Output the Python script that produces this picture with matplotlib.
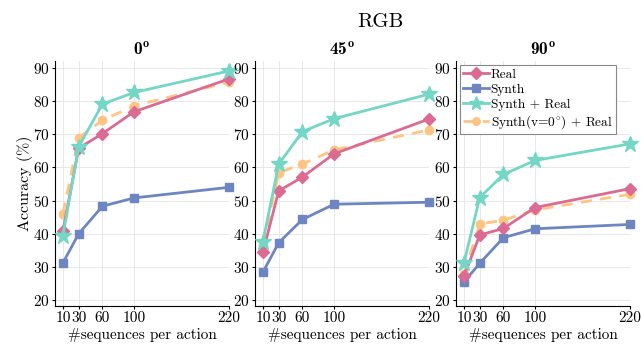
import matplotlib
matplotlib.use('Agg')
import matplotlib.pyplot as plt

plt.rcParams['font.family'] = 'cmr10'
plt.rcParams['mathtext.fontset'] = 'cm'
plt.rcParams['axes.formatter.use_mathtext'] = True

# sequences per action
n_seq = [10, 30, 60, 100, 220]

# accuracy (%) per view angle
views = ['0', '45', '90']
real = {
    '0': [40.8, 65.8, 70.2, 76.8, 86.7],
    '45': [34.4, 52.9, 57.1, 64.1, 74.6],
    '90': [27.1, 39.6, 41.6, 47.9, 53.6],
}
synth = {
    '0': [31.2, 40.0, 48.3, 50.8, 54.0],
    '45': [28.4, 37.3, 44.3, 48.9, 49.5],
    '90': [25.4, 31.1, 38.8, 41.5, 42.8],
}
synth_real = {
    '0': [39.4, 66.3, 79.1, 82.6, 89.1],
    '45': [37.6, 61.0, 70.8, 74.7, 82.1],
    '90': [31.1, 50.9, 57.9, 62.1, 67.1],
}
synth0_real = {
    '0': [46.1, 69.0, 74.2, 78.6, 85.7],
    '45': [36.5, 58.4, 61.0, 65.3, 71.3],
    '90': [28.0, 42.9, 44.1, 47.2, 51.9],
}

c_real = '#db6b92'
c_synth = '#6d86c2'
c_sr = '#74d6c5'
c_s0 = '#ffc482'

fig = plt.figure(figsize=(6.41, 3.47), dpi=100)
lefts = [55, 255, 456]
width = 174

for i, v in enumerate(views):
    ax = fig.add_axes([lefts[i] / 641, 1 - 306 / 347, width / 641, 245 / 347])
    ax.plot(n_seq, real[v], '-D', color=c_real, lw=2, ms=6.5, clip_on=False, label='Real', zorder=4)
    ax.plot(n_seq, synth[v], '-s', color=c_synth, lw=2, ms=6.2, clip_on=False, label='Synth', zorder=3)
    ax.plot(n_seq, synth_real[v], '-*', color=c_sr, lw=2, ms=12, clip_on=False, label='Synth + Real', zorder=5)
    ax.plot(n_seq, synth0_real[v], '--o', color=c_s0, lw=2, ms=6, clip_on=False,
            label=r'Synth(v=$0^{\circ}$) + Real', zorder=2, dashes=(4, 3))
    ax.set_xlim(0, 220)
    ax.set_ylim(18.2, 92.1)
    ax.set_xticks(n_seq)
    ax.set_xticklabels([str(n) for n in n_seq])
    ax.set_yticks([20, 30, 40, 50, 60, 70, 80, 90])
    ax.grid(True, color='#e8e8e8', lw=0.7)
    ax.set_axisbelow(True)
    ax.spines['top'].set_visible(False)
    ax.spines['right'].set_visible(False)
    ax.tick_params(labelsize=11, length=2.5, width=0.8, pad=1.5)
    ax.set_xlabel('#sequences per action', fontsize=11, labelpad=2)
    ax.set_title(v + r'$^{\mathbf{o}}$', fontsize=12.5, pad=4, fontfamily='cmb10')
    if i == 0:
        ax.set_ylabel('Accuracy (%)', fontsize=11.5, labelpad=0)
    if i == 2:
        leg = ax.legend(loc='upper left', fontsize=9.6, handlelength=1.9, handletextpad=0.15,
                        labelspacing=0.2, borderpad=0.25, borderaxespad=0.3, fancybox=False,
                        framealpha=1, markerscale=0.9)
        leg.get_frame().set_edgecolor('#888888')
        leg.get_frame().set_linewidth(0.8)

fig.text(380 / 641, 1 - 22 / 347, 'RGB', fontsize=15, ha='center', va='center')

fig.savefig('out.png', dpi=100)
